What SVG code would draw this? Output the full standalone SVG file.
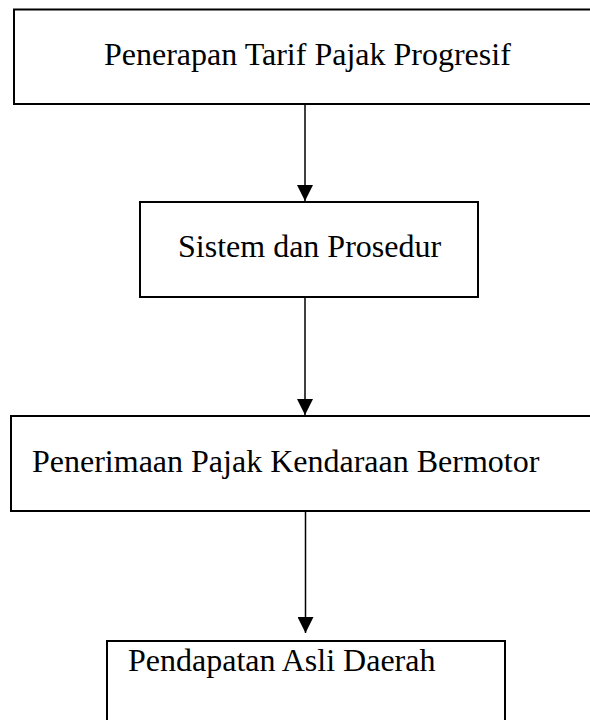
<svg xmlns="http://www.w3.org/2000/svg" width="590" height="720" viewBox="0 0 590 720">
<style>
.box{fill:#fff;stroke:#000;stroke-width:2}
.lbl{font-family:"Liberation Serif","Times New Roman",serif;font-size:32px;fill:#000}
.conn{stroke:#000;stroke-width:1.5;fill:none}
</style>
<defs>
<marker id="arr" markerUnits="userSpaceOnUse" markerWidth="16" markerHeight="16" refX="15" refY="7.5" orient="auto" viewBox="0 0 15 15">
<path d="M0,0 L15,7.5 L0,15 z" fill="#000"/>
</marker>
</defs>
<rect width="590" height="720" fill="#fff"/>
<g id="n1">
<rect class="box" x="14" y="9.5" width="590" height="94.5"/>
<text class="lbl" x="104" y="65">Penerapan Tarif Pajak Progresif</text>
</g>
<g id="n2">
<rect class="box" x="140" y="202" width="338" height="95"/>
<text class="lbl" x="178" y="257">Sistem dan Prosedur</text>
</g>
<g id="n3">
<rect class="box" x="11" y="416" width="600" height="95"/>
<text class="lbl" x="32" y="472">Penerimaan Pajak Kendaraan Bermotor</text>
</g>
<g id="n4">
<rect class="box" x="107" y="641" width="398" height="100"/>
<text class="lbl" x="128" y="671">Pendapatan Asli Daerah</text>
</g>
<g id="connectors">
<line class="conn" x1="305" y1="104" x2="305" y2="201" marker-end="url(#arr)"/>
<line class="conn" x1="305" y1="297" x2="305" y2="415" marker-end="url(#arr)"/>
<line class="conn" x1="305.5" y1="511" x2="305.5" y2="633" marker-end="url(#arr)"/>
</g>
</svg>
